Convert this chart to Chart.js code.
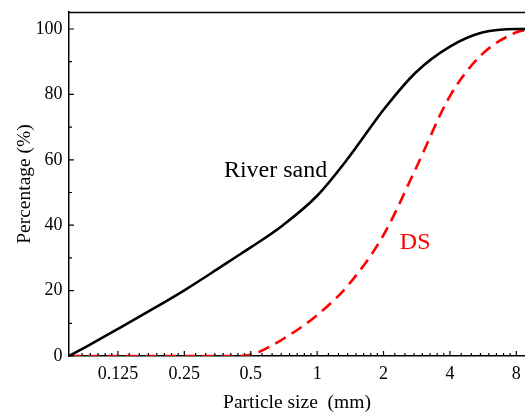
<!DOCTYPE html>
<html>
<head>
<meta charset="utf-8">
<script src="https://cdn.jsdelivr.net/npm/chart.js@4.4.1/dist/chart.umd.min.js"></script>
<style>
  html, body { margin: 0; padding: 0; background: #fff; overflow: hidden; }
</style>
</head>
<body>
<canvas id="psd" width="525" height="414"></canvas>
<script>
// particle size (mm) and cumulative passing (%)
const sizes = [0.075, 0.09, 0.125, 0.18, 0.25, 0.35, 0.42, 0.5, 0.7, 1, 1.4, 2, 2.8, 4, 5.6, 8, 8.76];
const riverSand = [0, 2.9, 8.3, 14.4, 20.1, 26.4, 29.9, 33.2, 40, 49, 61, 75.3, 86.7, 94.6, 98.9, 100, 100];
const ds = [0, 0, 0, 0, 0, 0, 0, 0.4, 5.2, 12.5, 22.1, 37, 57.3, 79.5, 92.3, 99, 99.7];

const xTicks = [0.125, 0.25, 0.5, 1, 2, 4, 8];
const yTicks = [0, 20, 40, 60, 80, 100];
const yMinor = [10, 30, 50, 70, 90];

// curve labels, placed in data coordinates
const labelText = ['River sand', 'DS'];
const labelX = [0.378, 2.37];
const labelY = [54.8, 32.7];
const labelColor = ['#000', '#ff0000'];

const serif = 'Liberation Serif, Times New Roman, serif';

// inward tick marks, top frame line and curve labels
const frame = {
  id: 'frame',
  afterDraw(chart) {
    const { ctx, chartArea: a, scales: { x, y } } = chart;
    ctx.save();
    ctx.strokeStyle = '#000';
    ctx.lineWidth = 1.5;
    ctx.beginPath();
    ctx.moveTo(a.left, a.top + 0.5);
    ctx.lineTo(a.right, a.top + 0.5);
    ctx.stroke();

    ctx.lineWidth = 1.2;
    ctx.beginPath();
    xTicks.forEach(v => {
      const px = x.getPixelForValue(v);
      ctx.moveTo(px, a.bottom);
      ctx.lineTo(px, a.bottom - 5);
    });
    [xTicks[0] / 2].concat(xTicks).forEach(base => {
      for (let k = 1; k < 8; k++) {
        const v = base * (1 + k / 8);
        if (v <= x.min || v >= x.max) continue;
        const px = x.getPixelForValue(v);
        ctx.moveTo(px, a.bottom);
        ctx.lineTo(px, a.bottom - 3);
      }
    });
    yTicks.forEach(v => {
      const py = y.getPixelForValue(v);
      ctx.moveTo(a.left, py);
      ctx.lineTo(a.left + 5, py);
    });
    yMinor.forEach(v => {
      const py = y.getPixelForValue(v);
      ctx.moveTo(a.left, py);
      ctx.lineTo(a.left + 3, py);
    });
    ctx.stroke();

    ctx.font = '24px ' + serif;
    ctx.textBaseline = 'alphabetic';
    ctx.textAlign = 'left';
    labelText.forEach((t, i) => {
      ctx.fillStyle = labelColor[i];
      ctx.fillText(t, x.getPixelForValue(labelX[i]), y.getPixelForValue(labelY[i]));
    });
    ctx.restore();
  }
};

function noPad(s) {
  s.paddingTop = 0;
  s.paddingBottom = 0;
  s.paddingLeft = 0;
  s.paddingRight = 0;
}

new Chart(document.getElementById('psd'), {
  type: 'line',
  data: {
    datasets: [
      {
        label: 'River sand',
        data: sizes.map((s, i) => ({ x: s, y: riverSand[i] })),
        borderColor: '#000',
        borderWidth: 2.6,
        pointRadius: 0,
        cubicInterpolationMode: 'monotone',
        fill: false
      },
      {
        label: 'DS',
        data: sizes.map((s, i) => ({ x: s, y: ds[i] })),
        borderColor: '#ff0000',
        borderWidth: 2.6,
        borderDash: [12, 7],
        pointRadius: 0,
        cubicInterpolationMode: 'monotone',
        fill: false
      }
    ]
  },
  options: {
    responsive: false,
    animation: false,
    devicePixelRatio: 1,
    layout: { padding: { top: 12, right: 0, bottom: 0, left: 0 } },
    plugins: {
      legend: { display: false },
      tooltip: { enabled: false }
    },
    scales: {
      x: {
        type: 'logarithmic',
        min: 0.075,
        max: 8.757,
        afterBuildTicks: (s) => { s.ticks = xTicks.map(v => ({ value: v })); },
        afterFit: (s) => { s.height = 58; noPad(s); },
        grid: { display: false, drawTicks: false },
        border: { display: true, color: '#000', width: 1.5 },
        ticks: {
          color: '#000',
          font: { family: serif, size: 18 },
          padding: 7,
          maxRotation: 0,
          autoSkip: false,
          callback: (v) => String(v)
        },
        title: {
          display: true,
          text: 'Particle size  (mm)',
          color: '#000',
          font: { family: serif, size: 19.5, lineHeight: 1.1 },
          padding: { top: 0, bottom: 0 }
        }
      },
      y: {
        min: 0,
        max: 105.2,
        afterBuildTicks: (s) => { s.ticks = yTicks.map(v => ({ value: v })); },
        afterFit: (s) => { s.width = 69; noPad(s); },
        grid: { display: false, drawTicks: false },
        border: { display: true, color: '#000', width: 1.5 },
        ticks: {
          color: '#000',
          font: { family: serif, size: 18 },
          padding: 6.5
        },
        title: {
          display: true,
          text: 'Percentage (%)',
          color: '#000',
          font: { family: serif, size: 19.5, lineHeight: 1.2 },
          padding: { top: 13, bottom: 0 }
        }
      }
    }
  },
  plugins: [frame]
});
</script>
</body>
</html>
